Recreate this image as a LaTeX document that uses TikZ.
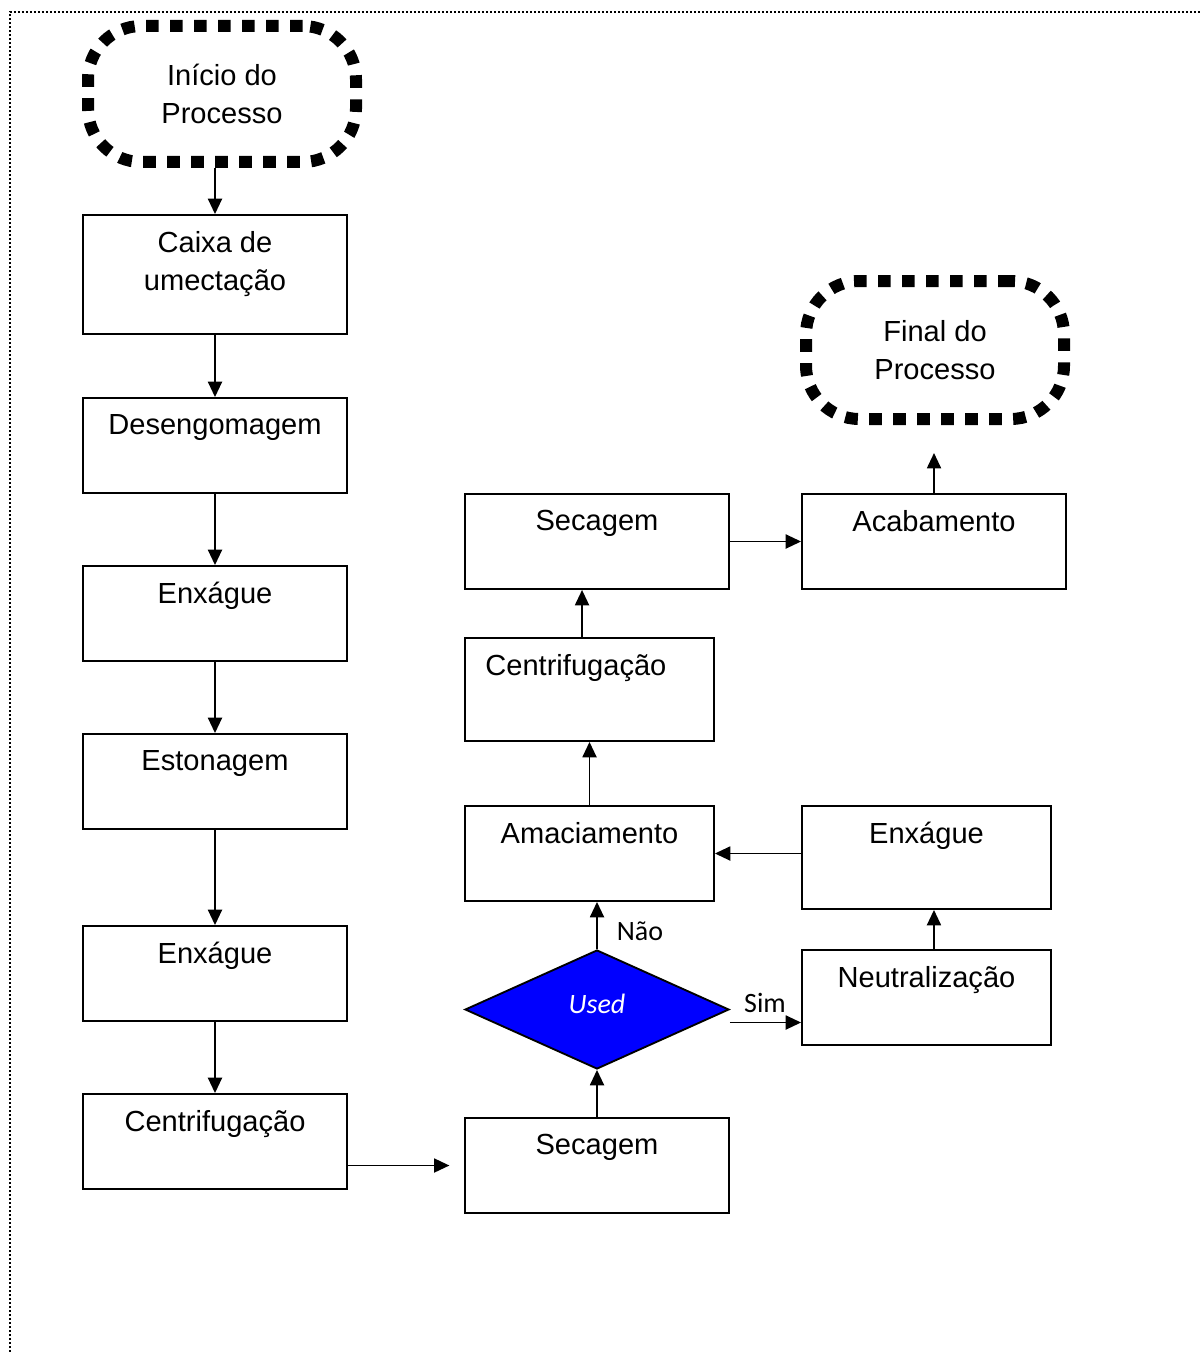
\documentclass[tikz,border=0pt]{standalone}
\usepackage{fontspec}
\setmainfont{Liberation Sans}
\newfontfamily\calib{Carlito}
\usetikzlibrary{shapes.geometric,arrows.meta}
\begin{document}
\begin{tikzpicture}[x=0.75pt,y=-0.75pt,
  every node/.style={font=\fontsize{21.8pt}{28.5pt}\selectfont},
  box/.style={draw, line width=1.4pt, rectangle, inner sep=0pt},
  lbl/.style={anchor=north, inner sep=0pt, yshift=-12.8pt, align=center},
  term/.style={draw, line width=9pt, dash pattern=on 9.5pt off 8.5pt, rounded corners=40pt, inner sep=0pt, align=center},
  arr/.style={line width=1.4pt, -{Triangle[length=11.5pt,width=10.5pt]}},
  small/.style={font=\calib\fontsize{21pt}{24pt}\selectfont, inner sep=0pt}
]
\useasboundingbox (0,0) rectangle (1202,1352);
\draw[line width=1.4pt, dash pattern=on 1.4pt off 1.6pt] (10,1352) -- (10,12) -- (1202,12);

% terminators
\node[term, minimum width=201pt, minimum height=102pt] (inicio) at (222,94) {Início do\\Processo};
\node[term, minimum width=193.5pt, minimum height=103.5pt] (fim) at (935,350) {Final do\\Processo};

% left column
\node[box, minimum width=198pt, minimum height=89.25pt, label={[lbl]north:Caixa de\\umectação}] (caixa) at (215,274.5) {};
\node[box, minimum width=198pt, minimum height=71.25pt, label={[lbl]north:Desengomagem}] (deseng) at (215,445.5) {};
\node[box, minimum width=198pt, minimum height=71.25pt, label={[lbl]north:Enxágue}] (enx1) at (215,613.5) {};
\node[box, minimum width=198pt, minimum height=71.25pt, label={[lbl]north:Estonagem}] (eston) at (215,781.5) {};
\node[box, minimum width=198pt, minimum height=71.25pt, label={[lbl]north:Enxágue}] (enx2) at (215,973.5) {};
\node[box, minimum width=198pt, minimum height=71.25pt, label={[lbl]north:Centrifugação}] (centr1) at (215,1141.5) {};

% middle column
\node[box, minimum width=198pt, minimum height=71.25pt, label={[lbl]north:Secagem}] (sec1) at (597,1165.5) {};
\node[draw, line width=1.4pt, diamond, fill={rgb,255:red,0;green,0;blue,255}, minimum width=198pt, minimum height=89.25pt, inner sep=0pt, aspect=2] (used) at (597,1009.5) {};
\node[small, text=white, font=\calib\itshape\fontsize{21pt}{24pt}\selectfont] (usedtxt) at (597,1004) {Used};
\node[box, minimum width=186.75pt, minimum height=71.25pt, label={[lbl]north:Amaciamento}] (amac) at (589.5,853.5) {};
\node[box, minimum width=186.75pt, minimum height=77.25pt, label={[lbl, xshift=-10.2pt]north:Centrifugação}] (centr2) at (589.5,689.5) {};
\node[box, minimum width=198pt, minimum height=71.25pt, label={[lbl]north:Secagem}] (sec2) at (597,541.5) {};

% right column
\node[box, minimum width=198pt, minimum height=71.25pt, label={[lbl]north:Acabamento}] (acab) at (934,541.5) {};
\node[box, minimum width=186.75pt, minimum height=77.25pt, label={[lbl]north:Enxágue}] (enx3) at (926.5,857.5) {};
\node[box, minimum width=186.75pt, minimum height=71.25pt, label={[lbl]north:Neutralização}] (neut) at (926.5,997.5) {};

% connectors
\draw[arr] (caixa.north |- inicio.south) -- (caixa.north);
\draw[arr] (caixa.south) -- (deseng.north);
\draw[arr] (deseng.south) -- (enx1.north);
\draw[arr] (enx1.south) -- (eston.north);
\draw[arr] (eston.south) -- (enx2.north);
\draw[arr] (enx2.south) -- (centr1.north);
\draw[arr] (centr1.east |- sec1.west) -- ([xshift=-11pt]sec1.west);
\draw[arr] (sec1.north) -- (used.south);
\draw[arr] (used.north) -- (used.north |- amac.south);
\draw[arr] ([yshift=-9.75pt]used.east) -- ([yshift=-9.75pt]used.east -| neut.west);
\draw[arr] ([xshift=5.6pt]neut.north) -- ([xshift=5.6pt]neut.north |- enx3.south);
\draw[arr] (enx3.west |- amac.east) -- (amac.east);
\draw[arr] (amac.north) -- (centr2.south);
\draw[arr] ([xshift=-5.6pt]centr2.north) -- ([xshift=-5.6pt]centr2.north |- sec2.south);
\draw[arr] (sec2.east) -- (acab.west);
\draw[arr] (acab.north) -- ([yshift=-21pt]acab.north |- fim.south);

% labels
\node[small] (nao) at (640,931) {Não};
\node[small] (sim) at (765,1003) {Sim};
\end{tikzpicture}
\end{document}
